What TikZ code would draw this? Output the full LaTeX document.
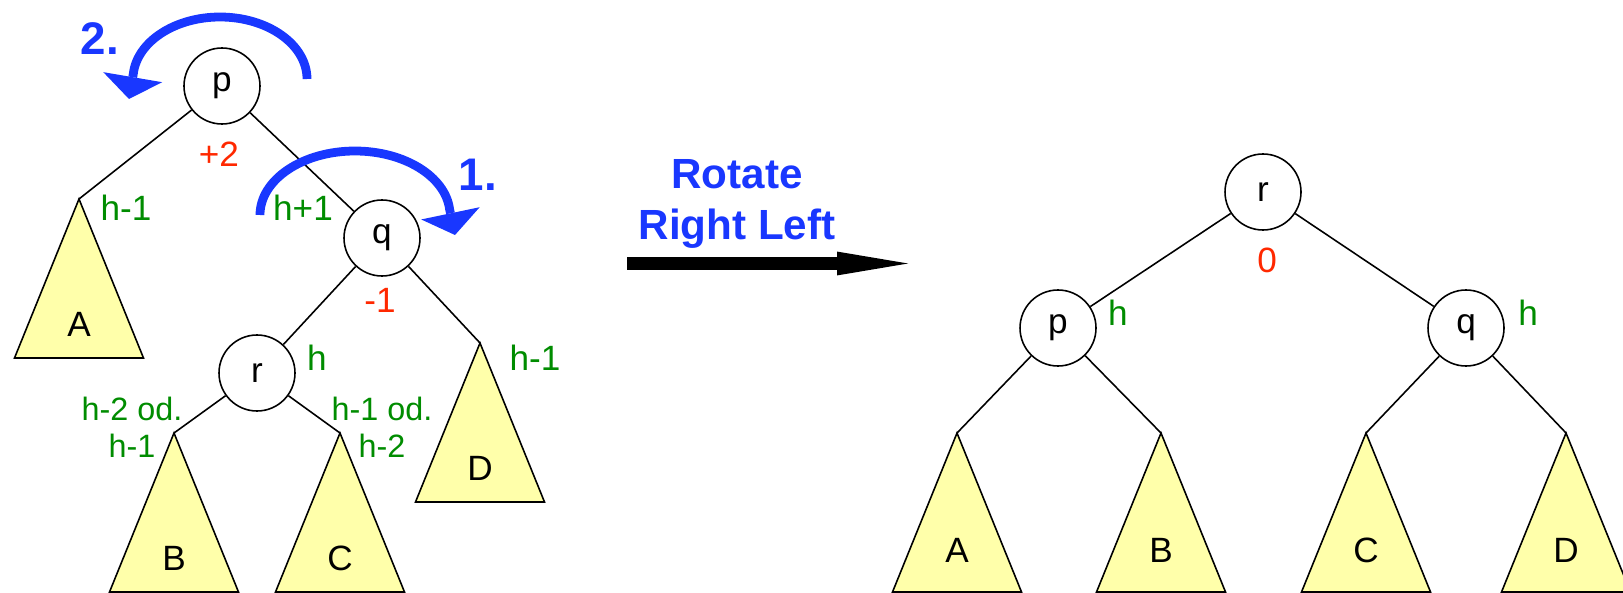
\documentclass[tikz,border=0pt]{standalone}
\usepackage{fontspec}
\setmainfont{Liberation Sans}
\usetikzlibrary{arrows.meta}
\definecolor{mblue}{RGB}{25,55,255}
\definecolor{mgreen}{RGB}{0,140,0}
\definecolor{mred}{RGB}{255,40,0}
\definecolor{myellow}{RGB}{255,255,170}
\tikzset{
  knot/.style={circle, draw, minimum size=0.76cm, inner sep=0pt},
  hlabel/.style={text=mgreen},
  bal/.style={text=mred},
  subtree/.style={draw, fill=myellow},
  turn/.style={mblue, line width=2.5pt, -{Triangle[length=6.3pt, width=17pt, line width=0pt]}},
  turnlabel/.style={text=mblue, font=\fontsize{13}{15}\selectfont\bfseries}
}

\begin{document}
\begin{tikzpicture}[line width=0.45pt, font=\fontsize{10}{10.5}\selectfont]
      \useasboundingbox (0,0) rectangle (16.23,-5.92);

      % before: p is right heavy, q left heavy
      \node [knot] (p) at (2.22,-0.86) {p};
      \node [knot] (q) at (3.82,-2.38) {q};
      \node [knot] (r) at (2.57,-3.73) {r};
      \foreach \n/\x/\y/\t in {a/0.79/-1.99/A, b/1.74/-4.33/B, c/3.40/-4.33/C, d/4.80/-3.43/D} {
        \coordinate (\n) at (\x,\y);
        \draw [subtree] (\n) -- ++(-0.645,-1.59) -- ++(1.29,0) -- cycle;
        \node (\n-name) at ([yshift=-1.25cm]\n) {\t};
      }
      \draw (p) -- (a) (p) -- (q) (q) -- (r) (q) -- (d) (r) -- (b) (r) -- (c);

      \node [bal] (bp) at (2.19,-1.54) {+2};
      \node [bal] (bq) at (3.80,-3.00) {-1};
      \node [hlabel] (ha) at (1.26,-2.08) {h-1};
      \node [hlabel] (hq) at (3.03,-2.08) {h+1};
      \node [hlabel] (hr) at (3.17,-3.58) {h};
      \node [hlabel] (hd) at (5.35,-3.58) {h-1};
      \node [hlabel, font=\fontsize{9.2}{10.5}\selectfont, align=center] (hb) at (1.32,-4.27) {h-2 od.\\h-1};
      \node [hlabel, font=\fontsize{9.2}{10.5}\selectfont, align=center] (hc) at (3.82,-4.27) {h-1 od.\\h-2};

      % the two single rotations
      \draw [turn] (2.60,-2.15) arc [start angle=180, end angle=5, x radius=0.95, y radius=0.64] -- (4.55,-2.35);
      \draw [turn] (3.07,-0.79) arc [start angle=0, end angle=175, x radius=0.87, y radius=0.62] -- (1.29,-0.99);
      \node [turnlabel] (one) at (4.78,-1.75) {1.};
      \node [turnlabel] (two) at (1.00,-0.39) {2.};

      \node [text=mblue, font=\fontsize{12}{14.3}\selectfont\bfseries, align=center] (rot) at (7.37,-2.04) {Rotate\\Right Left};
      \coordinate (from) at (6.27,-2.635);
      \coordinate (to) at (9.08,-2.635);
      \draw [line width=3.7pt, -{Triangle[length=20.2pt, width=6.8pt, line width=0pt]}] (from) -- (to);

      % after: r on top
      \node [knot] (r2) at (12.63,-1.92) {r};
      \node [knot] (p2) at (10.58,-3.28) {p};
      \node [knot] (q2) at (14.66,-3.28) {q};
      \foreach \n/\x/\t in {a2/9.57/A, b2/11.61/B, c2/13.66/C, d2/15.66/D} {
        \coordinate (\n) at (\x,-4.33);
        \draw [subtree] (\n) -- ++(-0.645,-1.59) -- ++(1.29,0) -- cycle;
        \node (\n-name) at ([yshift=-1.17cm]\n) {\t};
      }
      \draw (r2) -- (p2) (r2) -- (q2) (p2) -- (a2) (p2) -- (b2) (q2) -- (c2) (q2) -- (d2);

      \node [bal] (br) at (12.67,-2.60) {0};
      \node [hlabel] (hp2) at (11.18,-3.13) {h};
      \node [hlabel] (hq2) at (15.28,-3.13) {h};
    \end{tikzpicture}
\end{document}
